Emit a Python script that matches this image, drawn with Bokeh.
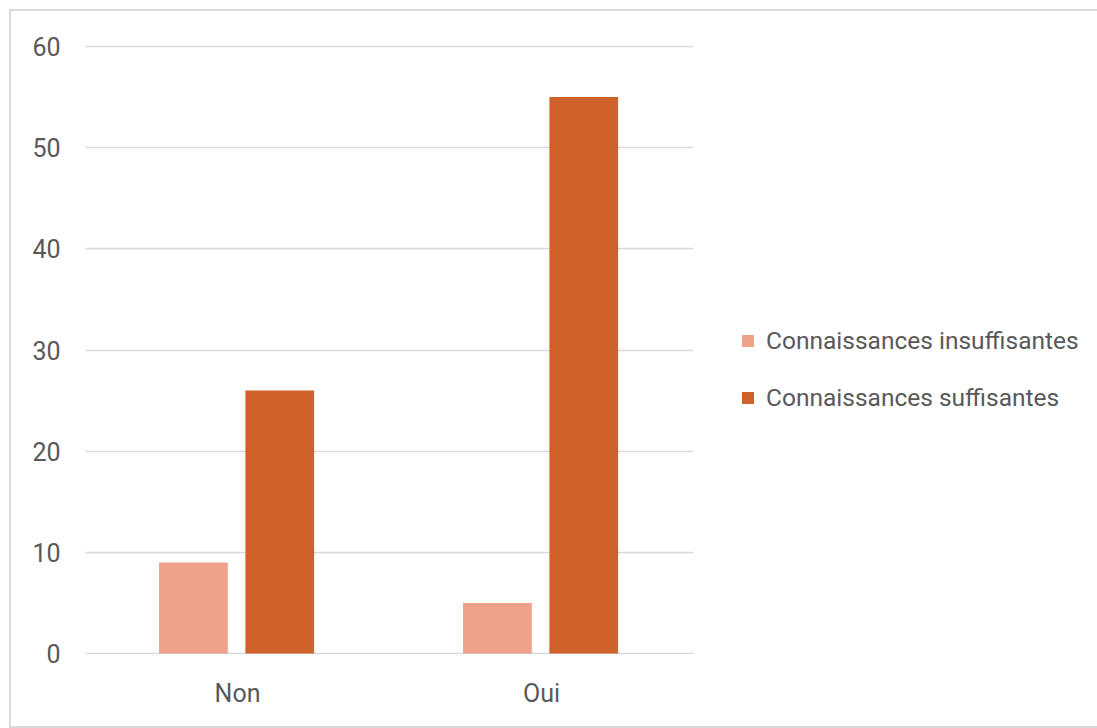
from bokeh.plotting import figure
from bokeh.models import FactorRange, Range1d, Legend, LegendItem, ColumnDataSource
from bokeh.transform import dodge
from bokeh.embed import file_html
from bokeh.resources import INLINE

categories = ["Non", "Oui"]
series_names = ["Connaissances insuffisantes", "Connaissances suffisantes"]
insuffisantes = [9, 5]
suffisantes = [26, 55]
colors = ["#EFA18A", "#CF612A"]
y_ticks = [0, 10, 20, 30, 40, 50, 60]

src = ColumnDataSource(dict(cat=categories, ins=insuffisantes, suf=suffisantes))

p = figure(x_range=FactorRange(*categories, range_padding=0), y_range=Range1d(-0.1, 60.1),
           frame_width=608, frame_height=609,
           min_border_left=74, min_border_top=34, min_border_bottom=72, min_border_right=402,
           output_backend="svg", toolbar_location=None)
p.styles = {"border": "2px solid #d9d9d9", "margin-left": "9px", "margin-top": "9px"}
p.outline_line_color = None
p.background_fill_color = "white"

r1 = p.vbar(x=dodge("cat", -0.145, range=p.x_range), top="ins", width=0.226, source=src,
            color=colors[0], line_color=None)
r2 = p.vbar(x=dodge("cat", 0.139, range=p.x_range), top="suf", width=0.226, source=src,
            color=colors[1], line_color=None)

p.xgrid.grid_line_color = None
p.ygrid.grid_line_color = "#d9d9d9"
p.ygrid.grid_line_width = 1.5
p.yaxis.ticker = y_ticks
for ax in (p.xaxis[0], p.yaxis[0]):
    ax.axis_line_color = None
    ax.major_tick_line_color = None
    ax.minor_tick_line_color = None
    ax.major_label_text_color = "#595959"
    ax.major_label_text_font = "Roboto"
    ax.major_label_text_font_size = "25px"
p.yaxis.major_label_standoff = 19
p.xaxis.major_label_standoff = 18

legend = Legend(items=[LegendItem(label=series_names[0], renderers=[r1]),
                       LegendItem(label=series_names[1], renderers=[r2])],
                location=(47, 242), orientation="vertical",
                label_text_font="Roboto", label_text_font_size="24.5px", label_text_color="#595959",
                glyph_width=15, glyph_height=15, label_standoff=11, spacing=28,
                border_line_color=None, background_fill_alpha=0, padding=0, margin=0)
p.add_layout(legend, "right")

open("out.html", "w").write(file_html(p, INLINE))
